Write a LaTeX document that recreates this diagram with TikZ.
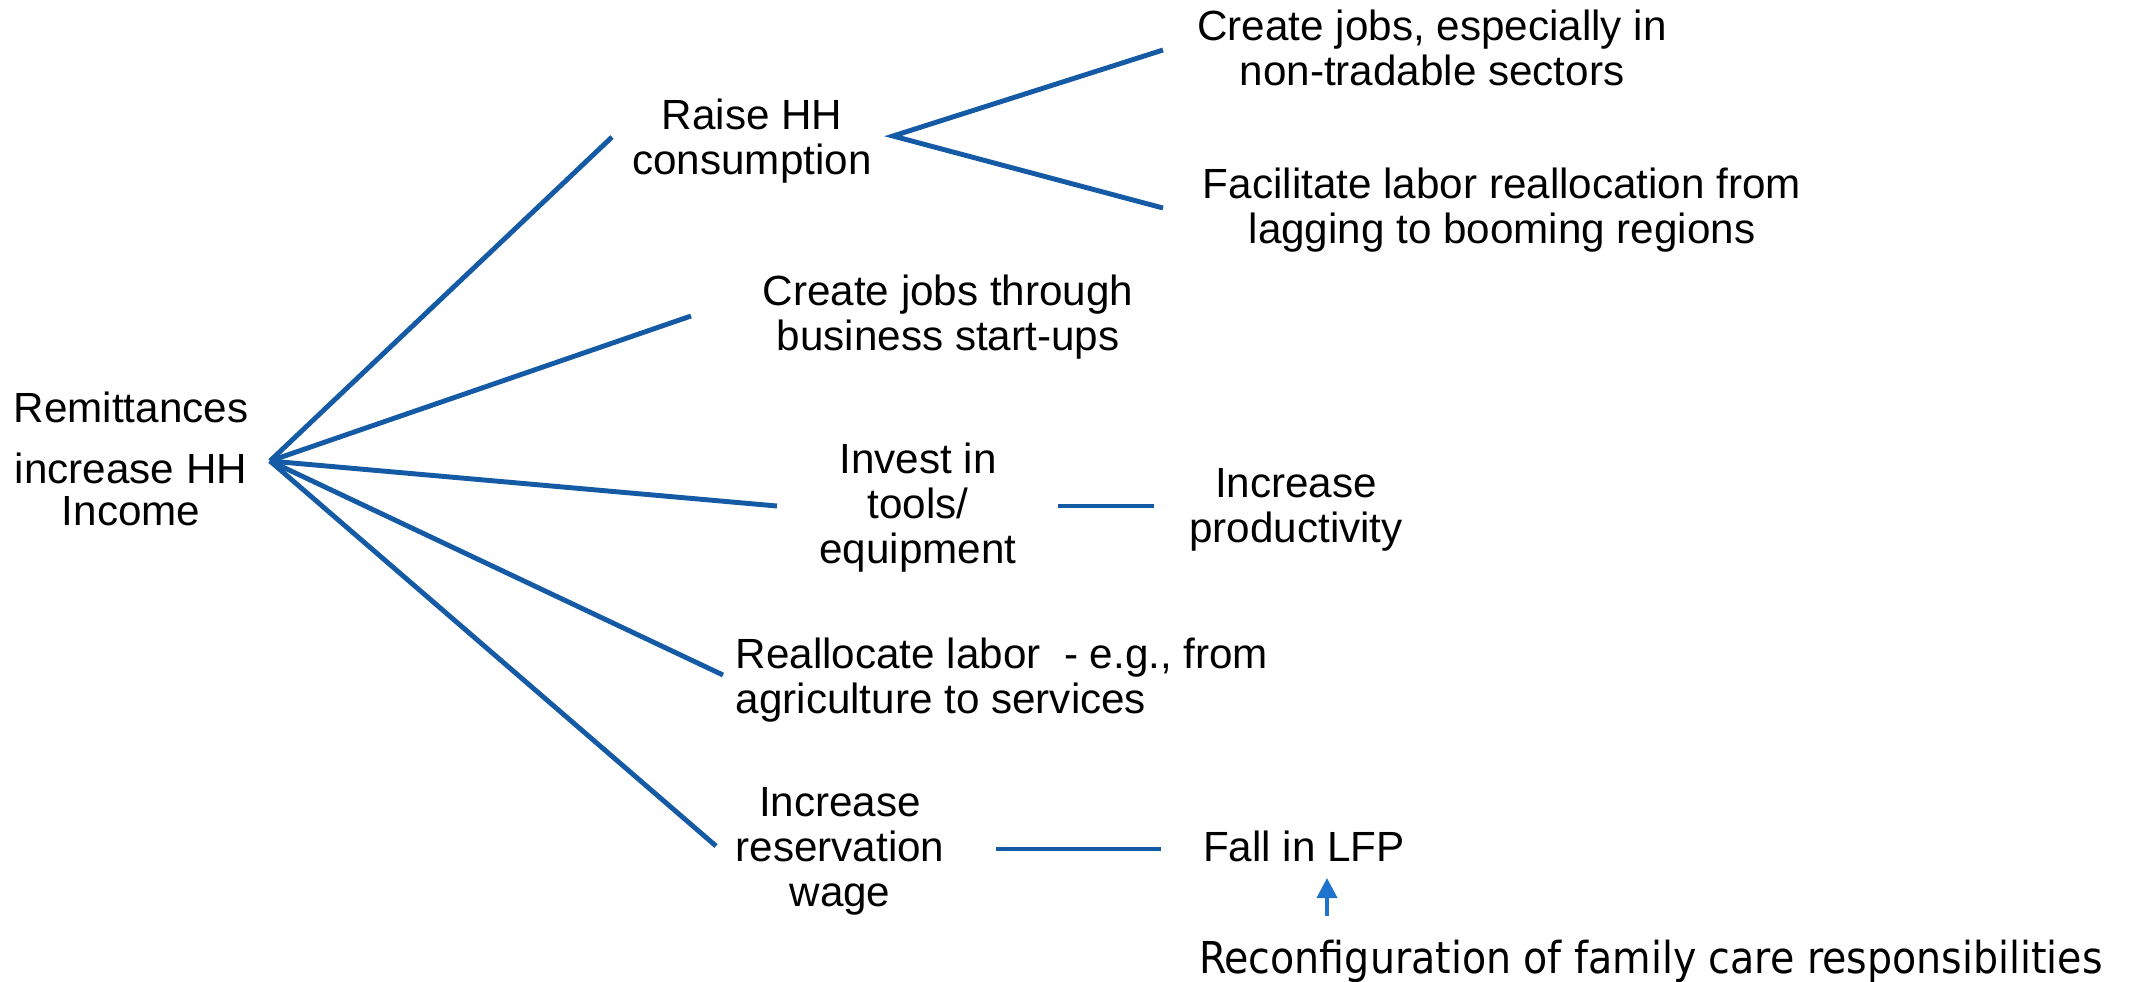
\documentclass[tikz,border=0pt]{standalone}
\usepackage{fontspec}
\setmainfont{Liberation Sans}
\newfontfamily\condfont{DejaVu Sans Condensed}
\usetikzlibrary{arrows.meta,positioning}

\definecolor{linkblue}{RGB}{20,90,165}
\definecolor{arrowblue}{RGB}{30,115,205}

\begin{document}
\begin{tikzpicture}[
    x=0.01cm, y=-0.01cm,
    txt/.style={align=center, inner sep=0pt, font=\fontsize{12}{12.8}\selectfont},
    root/.style={txt},
    link/.style={draw=linkblue, line width=1.4pt},
    cause/.style={draw=arrowblue, line width=1.1pt, -{Triangle[length=2mm, width=2mm]}}
]
    \useasboundingbox (0,0) rectangle (2146,981);

    % texts
    \node[root] (remit) at (131,459) {Remittances\\[4.5pt] increase HH\\[-0.8pt] Income};
    \node[txt] (raise) at (752,141) {Raise HH\\ consumption};
    \node[txt] (nontrade) at (1432,48) {Create jobs, especially in\\ non-tradable sectors};
    \node[txt] (facil) at (1502,210) {Facilitate labor reallocation from\\ lagging to booming regions};
    \node[txt] (startup) at (948,317) {Create jobs through\\ business start-ups};
    \node[txt] (invest) at (918,508) {Invest in\\ tools/\\ equipment};
    \node[txt] (prod) at (1296,510) {Increase\\ productivity};
    \node[txt, align=left, anchor=west] (realloc) at (735,680) {Reallocate labor\ \ - e.g., from\\ agriculture to services};
    \node[txt] (reserv) at (840,851) {Increase\\ reservation\\ wage};
    \node[txt] (lfp) at (1304,846) {Fall in LFP};
    \node[inner sep=0pt, font=\condfont\fontsize{12.5}{14}\selectfont] (reconf) at (1651,961) {Reconfiguration of family care responsibilities};

    % connector ends
    \coordinate (hub) at (270,461);
    \coordinate (toRaise) at (612,137);
    \coordinate (toStartup) at (691,316);
    \coordinate (toInvest) at (777,506);
    \coordinate (toRealloc) at (723,675);
    \coordinate (toReserv) at (716,846);
    \coordinate (fork) at (893,136);
    \coordinate (toNontrade) at (1163,50);
    \coordinate (toFacil) at (1163,208);
    \coordinate (investOut) at (1058,506);
    \coordinate (prodIn) at (1154,506);
    \coordinate (reservOut) at (996,849);
    \coordinate (lfpIn) at (1161,849);
    \coordinate (reconfOut) at (1327,916);
    \coordinate (lfpBelow) at (1327,878);

    % connectors
    \foreach \t in {toRaise,toStartup,toInvest,toRealloc,toReserv}
        \draw[link] (hub) -- (\t);
    \draw[link] (toNontrade) -- (fork) -- (toFacil);
    \draw[link] (investOut) -- (prodIn);
    \draw[link] (reservOut) -- (lfpIn);
    \draw[cause] (reconfOut) -- (lfpBelow);
\end{tikzpicture}
\end{document}
